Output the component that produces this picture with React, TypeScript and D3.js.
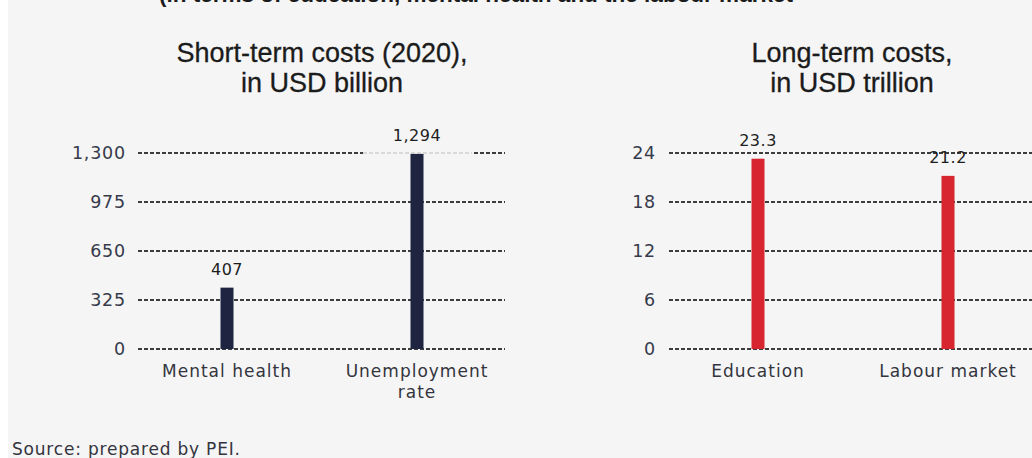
import React from "react";
import * as d3 from "d3";

const leftCategories = ["Mental health", "Unemployment rate"];
const leftValues = [407, 1294];
const leftLabels = ["407", "1,294"];
const leftTicks = [0, 325, 650, 975, 1300];

const rightCategories = ["Education", "Labour market"];
const rightValues = [23.3, 21.2];
const rightLabels = ["23.3", "21.2"];
const rightTicks = [0, 6, 12, 18, 24];

const W = 1032;
const H = 458;
const BG = "#f5f5f5";
const TICK_FONT = "'DejaVu Sans', Verdana, sans-serif";
const TITLE_FONT = "'Liberation Sans', Arial, sans-serif";

type PanelProps = {
  cats: string[];
  vals: number[];
  labels: string[];
  ticks: number[];
  x0: number;
  x1: number;
  labelX: number;
  centers: [number, number];
  color: string;
  title: string[];
  titleX: number;
  fmt: (v: number) => string;
  maskFirst?: boolean;
};

function Panel(p: PanelProps) {
  const y = d3.scaleLinear().domain([0, p.ticks[p.ticks.length - 1]]).range([349, 153]);
  const x = d3
    .scalePoint<string>()
    .domain(p.cats)
    .range(p.centers);
  const bw = 13;
  return (
    <g>
      {p.title.map((t, i) => (
        <text
          key={t}
          x={p.titleX}
          y={62 + i * 30}
          textAnchor="middle"
          fontFamily={TITLE_FONT}
          fontSize={27}
          fill="#1b1b1b"
          stroke="#1b1b1b"
          strokeWidth={0.3}
        >
          {t}
        </text>
      ))}
      {p.ticks.map((t) => (
        <g key={t}>
          <line
            x1={p.x0}
            x2={p.x1}
            y1={y(t)}
            y2={y(t)}
            stroke="#000"
            strokeWidth={1.4}
            strokeDasharray="4 2"
          />
          <text
            x={p.labelX}
            y={y(t) + 6}
            textAnchor="end"
            fontFamily={TICK_FONT}
            fontSize={17.5}
            letterSpacing={0.8}
            fill="#363a4a"
          >
            {p.fmt(t)}
          </text>
        </g>
      ))}
      {p.cats.map((c, i) => {
        const cx = x(c) as number;
        const lines = c === "Unemployment rate" ? ["Unemployment", "rate"] : [c];
        const top = y(p.vals[i]);
        return (
          <g key={c}>
            {p.maskFirst && i === 1 && (
              <g>
                <rect x={cx - 54} y={151} width={109} height={5} fill={BG} />
                <line
                  x1={cx - 54}
                  x2={cx + 55}
                  y1={y(p.ticks[p.ticks.length - 1])}
                  y2={y(p.ticks[p.ticks.length - 1])}
                  stroke="#cfcfcf"
                  strokeWidth={1.4}
                  strokeDasharray="4 2"
                />
              </g>
            )}
            <rect x={cx - bw / 2} y={top} width={bw} height={349 - top} fill={p.color} />
            <text
              x={cx}
              y={top - 13}
              textAnchor="middle"
              fontFamily={TICK_FONT}
              fontSize={16}
              letterSpacing={0.5}
              fill="#1e1e1e"
            >
              {p.labels[i]}
            </text>
            {lines.map((l, j) => (
              <text
                key={l}
                x={cx}
                y={377 + j * 21}
                textAnchor="middle"
                fontFamily={TICK_FONT}
                fontSize={17}
                letterSpacing={1}
                fill="#33343d"
              >
                {l}
              </text>
            ))}
          </g>
        );
      })}
    </g>
  );
}

export default function App() {
  const fmtL = d3.format(",");
  const fmtR = d3.format("d");
  return (
    <div style={{ position: "absolute", left: 0, top: 0 }}>
      <svg width={W} height={H} style={{ display: "block" }}>
        <rect x={0} y={0} width={W} height={H} fill="#ffffff" />
        <rect x={8} y={0} width={W - 8} height={H} fill={BG} />
        <text
          x={476}
          y={2}
          textAnchor="middle"
          fontFamily={TITLE_FONT}
          fontSize={22.5}
          fontWeight={700}
          fill="#1b1b1b"
        >
          (in terms of education, mental health and the labour market
        </text>
        <Panel
          cats={leftCategories}
          vals={leftValues}
          labels={leftLabels}
          ticks={leftTicks}
          x0={138}
          x1={505}
          labelX={126}
          centers={[227, 417]}
          color="#1f2540"
          title={["Short-term costs (2020),", "in USD billion"]}
          titleX={322}
          fmt={fmtL}
          maskFirst
        />
        <Panel
          cats={rightCategories}
          vals={rightValues}
          labels={rightLabels}
          ticks={rightTicks}
          x0={669}
          x1={1032}
          labelX={656}
          centers={[758, 948]}
          color="#d7262f"
          title={["Long-term costs,", "in USD trillion"]}
          titleX={852}
          fmt={fmtR}
        />
        <text
          x={12}
          y={455}
          fontFamily={TICK_FONT}
          fontSize={17}
          letterSpacing={0.8}
          fill="#33343d"
        >
          Source: prepared by PEI.
        </text>
      </svg>
    </div>
  );
}
